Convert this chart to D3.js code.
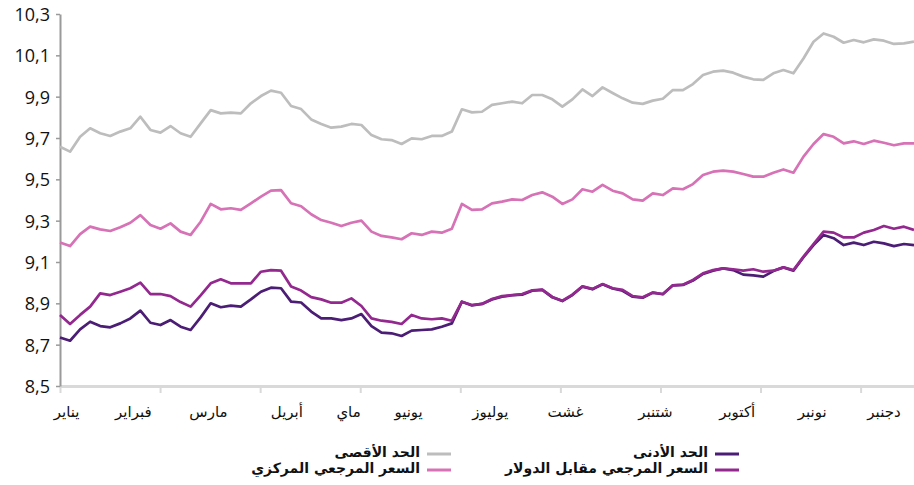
<!DOCTYPE html>
<html lang="ar">
<head>
<meta charset="utf-8">
<script src="https://cdn.jsdelivr.net/npm/d3@7/dist/d3.min.js"></script>
<style>
  html, body { margin: 0; padding: 0; background: #ffffff; }
  svg { display: block; }
  .ylab { font-family: "Open Sans", "DejaVu Sans", sans-serif; font-size: 18px; fill: #111; }
  .mlab { font-family: "DejaVu Sans", sans-serif; font-size: 15px; fill: #111; }
  .leg  { font-family: "DejaVu Sans", sans-serif; font-size: 14px; font-weight: bold; fill: #111; }
</style>
</head>
<body>
<svg id="chart" width="914" height="485"></svg>
<script>
// Daily dirham rates, sampled about every third trading day (86 samples over ~256 days)
const maxBound = [
  9.658, 9.634, 9.706, 9.747, 9.723, 9.710, 9.731, 9.747, 9.803, 9.739,
  9.726, 9.758, 9.723, 9.706, 9.771, 9.835, 9.819, 9.823, 9.819, 9.868,
  9.903, 9.929, 9.919, 9.855, 9.840, 9.790, 9.768, 9.750, 9.755, 9.768,
  9.763, 9.714, 9.694, 9.690, 9.671, 9.698, 9.694, 9.710, 9.710, 9.731,
  9.839, 9.824, 9.827, 9.860, 9.868, 9.876, 9.868, 9.908, 9.908, 9.887,
  9.852, 9.887, 9.935, 9.903, 9.945, 9.918, 9.892, 9.871, 9.865, 9.881,
  9.890, 9.932, 9.932, 9.961, 10.005, 10.021, 10.026, 10.016, 9.997, 9.984,
  9.981, 10.013, 10.029, 10.013, 10.085, 10.166, 10.206, 10.190, 10.161, 10.174,
  10.163, 10.177, 10.171, 10.155, 10.158, 10.166
];
const centralRate = [
  9.194, 9.177, 9.235, 9.271, 9.258, 9.250, 9.268, 9.290, 9.327, 9.279,
  9.261, 9.287, 9.247, 9.231, 9.295, 9.381, 9.355, 9.360, 9.352, 9.384,
  9.416, 9.445, 9.448, 9.384, 9.370, 9.331, 9.303, 9.290, 9.274, 9.290,
  9.300, 9.247, 9.226, 9.219, 9.210, 9.239, 9.231, 9.247, 9.242, 9.261,
  9.381, 9.352, 9.355, 9.384, 9.392, 9.403, 9.400, 9.424, 9.437, 9.416,
  9.381, 9.403, 9.452, 9.440, 9.473, 9.445, 9.432, 9.403, 9.397, 9.432,
  9.424, 9.456, 9.452, 9.477, 9.521, 9.537, 9.542, 9.537, 9.526, 9.513,
  9.513, 9.532, 9.548, 9.532, 9.610, 9.671, 9.719, 9.706, 9.674, 9.684,
  9.671, 9.687, 9.677, 9.665, 9.674, 9.674
];
const minBound = [
  8.735, 8.719, 8.774, 8.811, 8.790, 8.784, 8.803, 8.827, 8.865, 8.806,
  8.795, 8.819, 8.787, 8.771, 8.832, 8.900, 8.881, 8.889, 8.884, 8.919,
  8.956, 8.976, 8.973, 8.908, 8.904, 8.860, 8.827, 8.827, 8.819, 8.827,
  8.848, 8.790, 8.758, 8.755, 8.742, 8.768, 8.771, 8.774, 8.787, 8.803,
  8.908, 8.890, 8.897, 8.919, 8.932, 8.939, 8.942, 8.961, 8.965, 8.929,
  8.911, 8.940, 8.981, 8.968, 8.992, 8.972, 8.961, 8.932, 8.927, 8.952,
  8.944, 8.987, 8.989, 9.010, 9.042, 9.058, 9.069, 9.061, 9.039, 9.035,
  9.029, 9.056, 9.074, 9.058, 9.123, 9.182, 9.231, 9.215, 9.182, 9.194,
  9.182, 9.198, 9.190, 9.177, 9.187, 9.182
];
const usdRate = [
  8.844, 8.800, 8.844, 8.884, 8.948, 8.940, 8.956, 8.973, 9.000, 8.945,
  8.945, 8.935, 8.906, 8.884, 8.939, 8.997, 9.016, 8.997, 8.997, 8.997,
  9.053, 9.061, 9.058, 8.981, 8.962, 8.930, 8.919, 8.903, 8.903, 8.924,
  8.887, 8.827, 8.816, 8.810, 8.800, 8.844, 8.827, 8.823, 8.827, 8.816,
  8.908, 8.892, 8.897, 8.921, 8.935, 8.940, 8.945, 8.963, 8.966, 8.931,
  8.913, 8.942, 8.982, 8.970, 8.993, 8.973, 8.965, 8.935, 8.929, 8.952,
  8.945, 8.987, 8.990, 9.013, 9.045, 9.061, 9.069, 9.065, 9.058, 9.065,
  9.053, 9.058, 9.074, 9.061, 9.126, 9.187, 9.247, 9.242, 9.219, 9.219,
  9.242, 9.255, 9.274, 9.261, 9.271, 9.255
];

// Axis labels
const yTicks = [8.5, 8.7, 8.9, 9.1, 9.3, 9.5, 9.7, 9.9, 10.1, 10.3];
const xTickDays = [0, 30, 60, 90, 120, 150, 180, 210, 240];
const months = ["يناير", "فبراير", "مارس", "أبريل", "ماي", "يونيو",
                "يوليوز", "غشت", "شتنبر", "أكتوبر", "نونبر", "دجنبر"];
const monthAnchorDays = [2, 22, 44.5, 68, 86.5, 104.5, 129, 151.5, 178.5, 203, 225.5, 247];

const totalDays = 256;
const seriesNames = ["الحد الأقصى", "السعر المرجعي المركزي", "الحد الأدنى", "السعر المرجعي مقابل الدولار"];

const series = [
  { name: seriesNames[0], values: maxBound,    color: "#bdbdbd" },
  { name: seriesNames[1], values: centralRate, color: "#d672b5" },
  { name: seriesNames[2], values: minBound,    color: "#4b1d74" },
  { name: seriesNames[3], values: usdRate,     color: "#93288f" }
];

const svg = d3.select("#chart");
const plotLeft = 60, plotRight = 914, plotTop = 14, plotBottom = 386;

const x = d3.scaleLinear().domain([0, totalDays]).range([plotLeft, plotRight]);
const y = d3.scaleLinear().domain([8.5, 10.3]).range([plotBottom, plotTop]);

const n = maxBound.length;
const dayOf = i => i * totalDays / (n - 1);

// x axis (light grey baseline with downward ticks)
const xAxis = svg.append("g")
  .attr("transform", `translate(0,${plotBottom})`)
  .call(d3.axisBottom(x).tickValues(xTickDays).tickFormat("").tickSize(7).tickSizeOuter(0));
xAxis.select(".domain").attr("stroke", "#d9d9d9").attr("stroke-width", 3);
xAxis.selectAll(".tick line").attr("stroke", "#d9d9d9").attr("stroke-width", 2);

// y axis
const fmt = d3.formatLocale({ decimal: ",", thousands: " ", grouping: [3], currency: ["", ""] }).format(".1f");
const yAxis = svg.append("g")
  .attr("transform", `translate(${plotLeft},0)`)
  .call(d3.axisLeft(y).tickValues(yTicks).tickFormat(fmt).tickSize(4).tickSizeOuter(0).tickPadding(6));
yAxis.select(".domain").attr("stroke", "#9a9a9a").attr("stroke-width", 2);
yAxis.selectAll(".tick line").attr("stroke", "#9a9a9a").attr("stroke-width", 1.5);
yAxis.selectAll(".tick text").attr("class", "ylab").attr("dy", "0.36em");

// month labels
svg.append("g").selectAll("text")
  .data(months)
  .join("text")
  .attr("class", "mlab")
  .attr("x", (d, i) => x(monthAnchorDays[i]))
  .attr("y", 417)
  .attr("text-anchor", "middle")
  .text(d => d);

// series lines
const line = d3.line()
  .x((d, i) => x(dayOf(i)))
  .y(d => y(d));

svg.append("g").selectAll("path")
  .data(series)
  .join("path")
  .attr("fill", "none")
  .attr("stroke", d => d.color)
  .attr("stroke-width", 2.7)
  .attr("stroke-linejoin", "round")
  .attr("d", d => line(d.values));

// legend: two columns, swatch to the right of each label
const legendItems = [
  { s: series[0], col: 0, row: 0 },
  { s: series[1], col: 0, row: 1 },
  { s: series[2], col: 1, row: 0 },
  { s: series[3], col: 1, row: 1 }
];
const colRight = [451, 739];
const rowY = [454, 470];
const lg = svg.append("g").selectAll("g")
  .data(legendItems)
  .join("g")
  .attr("transform", d => `translate(${colRight[d.col]},${rowY[d.row]})`);
lg.append("line")
  .attr("x1", -24).attr("x2", 0).attr("y1", 0).attr("y2", 0)
  .attr("stroke", d => d.s.color).attr("stroke-width", 3);
lg.append("text")
  .attr("class", "leg")
  .attr("x", -31)
  .attr("y", 0)
  .attr("dy", "0.2em")
  .attr("text-anchor", "end")
  .text(d => d.s.name);
</script>
</body>
</html>
